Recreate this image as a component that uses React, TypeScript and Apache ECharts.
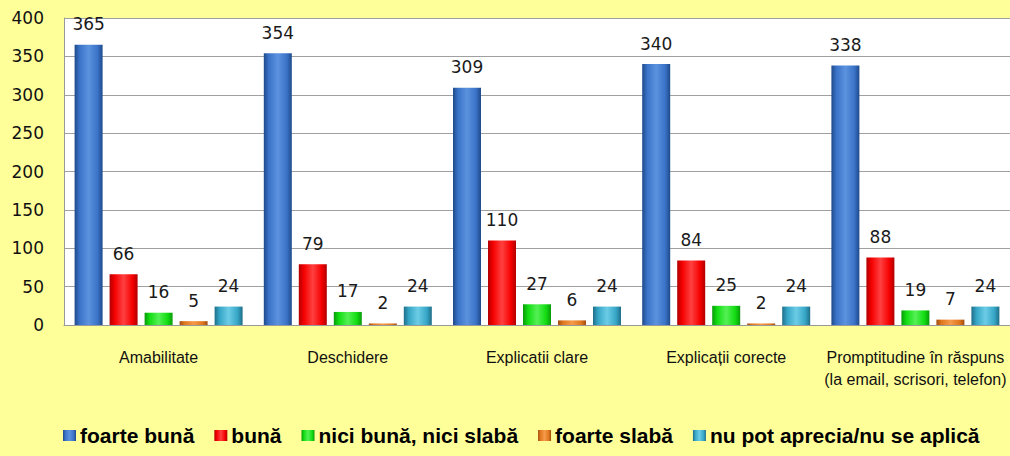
import React, { useEffect, useRef } from "react";
import * as echarts from "echarts";

const categories = [
  "Amabilitate",
  "Deschidere",
  "Explicatii clare",
  "Explicații corecte",
  "Promptitudine în răspuns\n(la email, scrisori, telefon)",
];
const seriesNames = [
  "foarte bună",
  "bună",
  "nici bună, nici slabă",
  "foarte slabă",
  "nu pot aprecia/nu se aplică",
];
const foarteBuna = [365, 354, 309, 340, 338];
const buna = [66, 79, 110, 84, 88];
const niciBunaNiciSlaba = [16, 17, 27, 25, 19];
const foarteSlaba = [5, 2, 6, 2, 7];
const nuPotAprecia = [24, 24, 24, 24, 24];
const yTicks = { min: 0, max: 400, interval: 50 };

const palette = [
  { base: "#3A73C8", dark: "#1F4A8A", light: "#5C92DE" },
  { base: "#F50000", dark: "#B00000", light: "#FF4040" },
  { base: "#12DD12", dark: "#0A9A0A", light: "#55F055" },
  { base: "#E0781E", dark: "#A04C10", light: "#F59A4A" },
  { base: "#36A6C6", dark: "#1F6E88", light: "#6CCCE6" },
];

function grad(c: { base: string; dark: string; light: string }) {
  return new echarts.graphic.LinearGradient(0, 0, 1, 0, [
    { offset: 0, color: c.dark },
    { offset: 0.18, color: c.base },
    { offset: 0.5, color: c.light },
    { offset: 0.82, color: c.base },
    { offset: 1, color: c.dark },
  ]);
}

export default function App() {
  const ref = useRef<HTMLDivElement>(null);
  useEffect(() => {
    document.body.style.margin = "0";
    if (!ref.current) return;
    const chart = echarts.init(ref.current, undefined, { renderer: "svg" });
    const data = [foarteBuna, buna, niciBunaNiciSlaba, foarteSlaba, nuPotAprecia];
    chart.setOption({
      animation: false,
      backgroundColor: "#FFFF99",
      textStyle: { fontFamily: "DejaVu Sans" },
      grid: {
        left: 64,
        top: 18,
        width: 952,
        height: 307,
        show: true,
        backgroundColor: "#FFFFFF",
        borderWidth: 0,
      },
      legend: {
        top: 420,
        left: 58,
        itemWidth: 13,
        itemHeight: 11,
        itemGap: 20,
        icon: "rect",
        textStyle: {
          fontFamily: "Liberation Sans",
          fontSize: 21,
          fontWeight: "bold",
          color: "#000",
          padding: [0, 0, 0, -1],
        },
        data: seriesNames,
      },
      xAxis: {
        type: "category",
        data: categories,
        axisLine: { show: true, lineStyle: { color: "#999", width: 1 } },
        axisTick: { show: false },
        axisLabel: {
          fontFamily: "Liberation Sans",
          fontSize: 16,
          color: "#111",
          margin: 21,
          lineHeight: 22,
          interval: 0,
          verticalAlign: "top",
        },
      },
      yAxis: {
        type: "value",
        min: yTicks.min,
        max: yTicks.max,
        interval: yTicks.interval,
        axisLine: { show: true, lineStyle: { color: "#999" } },
        axisTick: { show: false },
        splitLine: { lineStyle: { color: "#A0A0A0", width: 1 } },
        axisLabel: {
          fontFamily: "DejaVu Sans",
          fontSize: 17,
          color: "#111",
          margin: 20,
        },
      },
      series: seriesNames.map((name, i) => ({
        name,
        type: "bar",
        data: data[i],
        barWidth: 28,
        barGap: "25%",
        itemStyle: { color: grad(palette[i]) },
        label: {
          show: true,
          position: "top",
          distance: 12,
          fontFamily: "DejaVu Sans",
          fontSize: 17,
          color: "#1a1a1a",
        },
      })),
      color: palette.map((p) => p.base),
    });
    return () => chart.dispose();
  }, []);
  return <div ref={ref} style={{ width: 1010, height: 456 }} />;
}
